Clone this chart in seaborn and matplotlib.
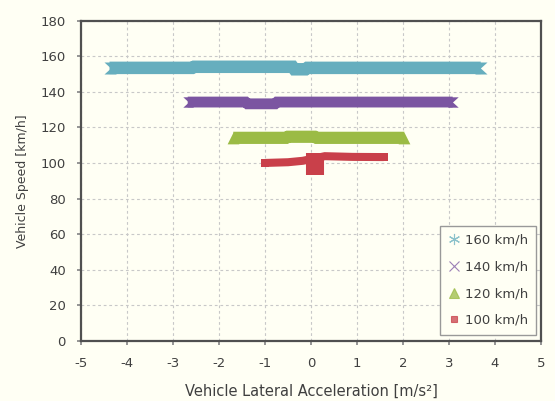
import matplotlib
matplotlib.use("Agg")
import matplotlib.pyplot as plt
from matplotlib.lines import Line2D
import pandas as pd
import seaborn as sns

# Centre lines of the measured point clouds (lateral acceleration m/s², speed km/h)
acc_160 = [-4.38, -2.58, -2.54, -0.40, -0.36, -0.12, -0.08, 3.69]
spd_160 = [153.4, 153.4, 154.0, 154.0, 152.6, 152.6, 153.4, 153.4]

acc_140 = [-2.68, -1.42, -1.38, -0.78, -0.74, 3.08]
spd_140 = [134.2, 134.2, 133.2, 133.2, 134.2, 134.2]

acc_120 = [-1.69, -0.54, -0.50, 0.08, 0.12, 2.03]
spd_120 = [114.1, 114.1, 114.7, 114.7, 114.1, 114.1]

acc_100 = [-1.00, -0.50, -0.18, 0.30, 0.90, 1.58]
spd_100 = [100.0, 100.4, 101.2, 103.8, 103.4, 103.3]
# dense core of the 100 km/h cloud near zero acceleration
acc_100_core = [0.09, 0.09]
spd_100_core = [93.3, 105.8]

labels = ["160 km/h", "140 km/h", "120 km/h", "100 km/h"]
colors = ["#66aebe", "#7b55a1", "#9bbb45", "#c9404a"]
band_width = [9.0, 7.8, 8.8, 5.8]      # points

# end shapes of the dense bands: notched tails, sloped triangle sides, square ends
tail_left = [(-1, 1), (0.1, 0), (-1, -1), (1, -1), (1, 1)]
tail_right = [(1, 1), (-0.1, 0), (1, -1), (-1, -1), (-1, 1)]
end_markers = [(tail_left, tail_right), (tail_left, tail_right), ("^", "^"), ("s", "s")]

legend_markers = [(6, 2, 0), "x", "^", "s"]
legend_sizes = [8, 7, 7, 4]

x_ticks = [-5, -4, -3, -2, -1, 0, 1, 2, 3, 4, 5]
y_ticks = [0, 20, 40, 60, 80, 100, 120, 140, 160, 180]

bg = "#fffff4"
ink = "#404040"

sns.set_theme(style="whitegrid", rc={
    "axes.facecolor": bg,
    "figure.facecolor": bg,
    "axes.edgecolor": "#505050",
    "axes.linewidth": 1.6,
    "grid.color": "#c8c8c8",
    "grid.linestyle": (0, (2.5, 2.5)),
    "grid.linewidth": 0.8,
    "xtick.bottom": True,
    "ytick.left": True,
    "xtick.color": "#888888",
    "ytick.color": "#888888",
    "xtick.major.size": 3,
    "ytick.major.size": 3,
    "xtick.direction": "out",
    "ytick.direction": "out",
})
plt.rcParams["font.family"] = ["DejaVu Sans"]

fig = plt.figure(figsize=(5.55, 4.01), dpi=100)
ax = fig.add_axes([81 / 555, 1 - 341 / 401, 460 / 555, 320.5 / 401])

series = [
    (acc_160, spd_160), (acc_140, spd_140), (acc_120, spd_120), (acc_100, spd_100)
]
for (xs, ys), col, (mk_l, mk_r), lw in zip(series, colors, end_markers, band_width):
    df = pd.DataFrame({"acc": xs, "speed": ys})
    sns.lineplot(data=df, x="acc", y="speed", sort=False, estimator=None,
                 color=col, linewidth=lw, solid_capstyle="butt",
                 solid_joinstyle="miter", ax=ax, legend=False)
    for idx, mk in ((0, mk_l), (-1, mk_r)):
        sns.scatterplot(data=df.iloc[[idx]], x="acc", y="speed", marker=mk,
                        s=(lw * 0.96) ** 2, color=col, edgecolor=col, linewidth=0,
                        ax=ax, legend=False)

core = pd.DataFrame({"acc": acc_100_core, "speed": spd_100_core})
sns.lineplot(data=core, x="acc", y="speed", sort=False, estimator=None,
             color=colors[3], linewidth=13, solid_capstyle="butt", ax=ax, legend=False)

ax.set_xlim(-5, 5)
ax.set_ylim(0, 180)
ax.set_xticks(x_ticks)
ax.set_yticks(y_ticks)
ax.set_xticklabels([str(v) for v in x_ticks], color=ink, fontsize=9.5)
ax.set_yticklabels([str(v) for v in y_ticks], color=ink, fontsize=9.5)
ax.tick_params(axis="x", pad=8.5)
ax.tick_params(axis="y", pad=8)
ax.set_xlabel("Vehicle Lateral Acceleration [m/s²]", color=ink, fontsize=10.5, labelpad=10)
ax.set_ylabel("Vehicle Speed [km/h]", color=ink, fontsize=9, labelpad=8)
for sp in ax.spines.values():
    sp.set_visible(True)
    sp.set_color("#505050")
    sp.set_linewidth(1.6)

handles = [
    Line2D([], [], linestyle="none", marker=m, markersize=s, color=c,
           markeredgecolor=c, markeredgewidth=0.8, alpha=0.75)
    for m, s, c in zip(legend_markers, legend_sizes, colors)
]
leg = ax.legend(handles, labels, loc="lower right", bbox_to_anchor=(0.989, 0.019),
                borderaxespad=0, fontsize=9.5, labelspacing=1.05, handlelength=0.9,
                handletextpad=0.35, borderpad=0.6, fancybox=False, framealpha=1,
                facecolor=bg, edgecolor="#999999")
for t in leg.get_texts():
    t.set_color(ink)

fig.savefig("out.png", dpi=100, facecolor=bg)
